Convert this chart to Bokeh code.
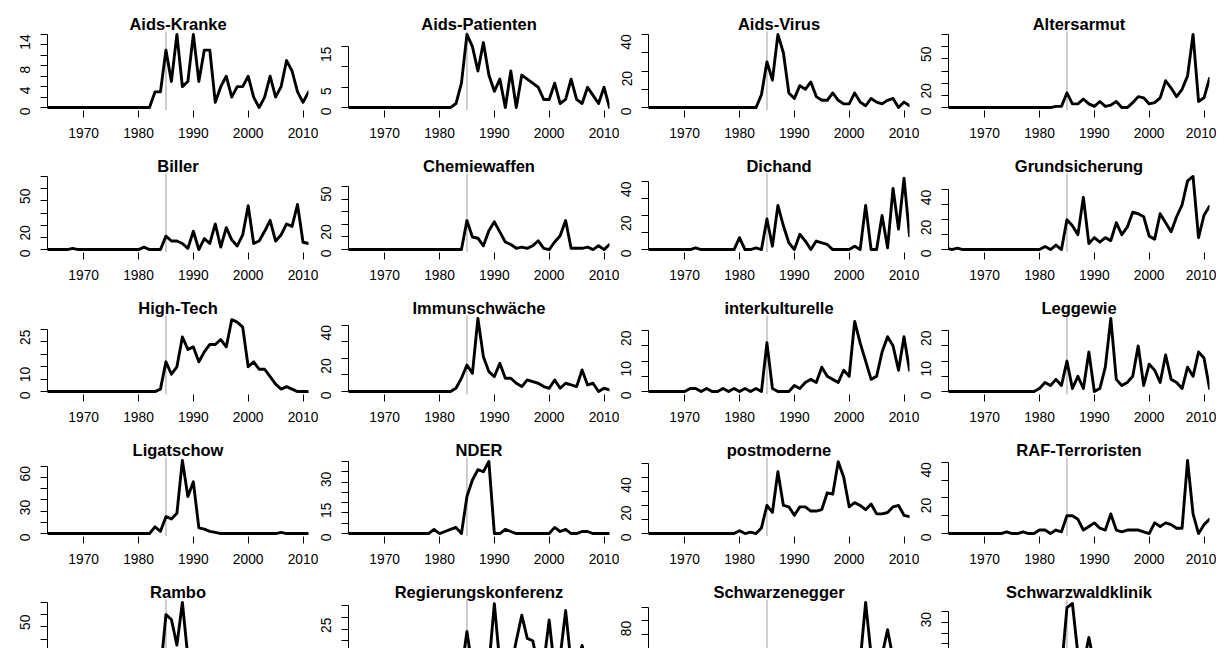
import numpy as np
from bokeh.plotting import figure
from bokeh.layouts import row, column
from bokeh.models import Range1d, FixedTicker, Label
from bokeh.embed import file_html
from bokeh.resources import INLINE

years = list(range(1963, 2012))

z = lambda n: [0] * n

aids_kranke = z(20) + [3, 3, 11, 5, 14, 4, 5, 14, 5, 11, 11, 1, 4, 6, 2, 4, 4, 6, 2, 0, 2, 6, 2, 4, 9, 7, 3, 1, 3]
aids_patienten = z(20) + [1, 6, 18, 15, 9, 16, 8, 4, 7, 0, 9, 0, 8, 7, 6, 5, 2, 2, 6, 1, 2, 7, 2, 1, 5, 3, 1, 5, 0]
aids_virus = z(21) + [7, 25, 15, 40, 30, 8, 5, 12, 10, 14, 6, 4, 4, 8, 4, 2, 2, 8, 3, 1, 5, 3, 2, 4, 5, 0, 3, 1]
altersarmut = z(20) + [1, 1, 12, 3, 3, 7, 3, 1, 5, 1, 2, 5, 0, 0, 4, 9, 8, 3, 4, 8, 22, 16, 9, 15, 26, 60, 5, 8, 24]
biller = z(5) + [1] + z(12) + [2, 0, 0, 0, 11, 7, 7, 5, 1, 15, 0, 9, 5, 21, 2, 18, 8, 3, 12, 36, 5, 7, 15, 24, 7, 12, 21, 19, 37, 6, 5]
chemiewaffen = z(22) + [23, 10, 9, 3, 15, 22, 14, 6, 4, 1, 2, 1, 3, 7, 1, 0, 6, 11, 23, 1, 1, 1, 2, 0, 3, 0, 4]
dichand = z(9) + [1] + z(7) + [7, 0, 0, 1, 0, 18, 2, 26, 14, 4, 0, 9, 5, 0, 5, 4, 3, 0, 0, 0, 0, 2, 0, 26, 0, 0, 20, 1, 36, 12, 42, 8]
grundsicherung = [1, 0, 1] + z(15) + [2, 0, 3, 0, 20, 16, 10, 35, 4, 8, 5, 8, 6, 18, 10, 15, 25, 24, 22, 9, 7, 24, 18, 12, 22, 30, 46, 49, 8, 23, 29]
high_tech = z(21) + [1, 12, 7, 10, 22, 17, 18, 12, 16, 19, 19, 21, 18, 29, 28, 26, 10, 12, 9, 9, 6, 3, 1, 2, 1, 0, 0, 0]
immunschwaeche = z(20) + [2, 8, 16, 11, 44, 21, 12, 9, 17, 8, 8, 5, 3, 7, 6, 5, 3, 2, 7, 2, 5, 4, 3, 13, 4, 5, 0, 2, 1]
interkulturelle = z(7) + [0, 1, 1, 0, 1, 0, 0, 1, 0, 1, 0, 1, 0, 1, 0, 16, 1, 0, 0, 0, 2, 1, 3, 4, 3, 8, 5, 4, 3, 7,
                          5, 23, 16, 10, 4, 5, 13, 18, 15, 7, 18, 7]
leggewie = z(17) + [1, 3, 2, 4, 2, 10, 1, 5, 1, 13, 0, 1, 8, 24, 4, 2, 3, 5, 15, 2, 9, 7, 3, 12, 4, 3, 1, 8, 5, 13, 11, 1]
ligatschow = z(20) + [6, 2, 15, 13, 18, 65, 33, 46, 5, 4, 2, 1] + z(11) + [1] + z(5)
nder = z(16) + [2, 0, 1, 2, 3, 0, 18, 26, 31, 30, 35, 0, 0, 2, 1, 0, 0, 0, 0, 0, 0, 0, 3, 1, 2, 0, 0, 1, 1, 0, 0, 0, 0]
postmoderne = z(17) + [2, 0, 1, 0, 4, 20, 15, 44, 20, 19, 13, 19, 19, 16, 16, 17, 29, 28, 51, 40, 19, 22, 20, 17, 21, 14, 14, 15, 19, 20, 13, 12]
raf_terroristen = z(11) + [1, 0, 0, 1, 0, 0, 2, 2, 0, 2, 1, 10, 10, 8, 2, 4, 6, 3, 2, 11, 2, 1, 2, 2, 2, 1, 0, 6, 4, 6,
                           5, 3, 3, 41, 11, 0, 5, 8]
rambo = z(21) + [3, 50, 46, 25, 60, 15, 8, 5, 3, 4, 2, 3, 2, 2, 3, 1, 2, 4, 2, 1, 3, 2, 1, 2, 5, 2, 3, 1]
regierungskonferenz = z(21) + [2, 19, 3, 1, 2, 4, 31, 5, 4, 3, 15, 26, 16, 15, 4, 5, 24, 2, 8, 28, 5, 3, 13, 3, 5, 2, 3, 2]
schwarzenegger = z(21) + [1, 3, 2, 4, 5, 3, 6, 4, 3, 5, 4, 6, 8, 5, 4, 9, 12, 15, 20, 107, 30, 25, 30, 67, 25, 20, 15, 10]
schwarzwaldklinik = z(21) + [3, 32, 34, 10, 5, 18, 5, 3, 2, 2, 1, 1, 2, 1, 1, 0, 1, 0, 1, 0, 1, 0, 1, 0, 0, 1, 0, 0]

titles = ["Aids-Kranke", "Aids-Patienten", "Aids-Virus", "Altersarmut",
          "Biller", "Chemiewaffen", "Dichand", "Grundsicherung",
          "High-Tech", "Immunschwäche", "interkulturelle", "Leggewie",
          "Ligatschow", "NDER", "postmoderne", "RAF-Terroristen",
          "Rambo", "Regierungskonferenz", "Schwarzenegger", "Schwarzwaldklinik"]
series = [aids_kranke, aids_patienten, aids_virus, altersarmut,
          biller, chemiewaffen, dichand, grundsicherung,
          high_tech, immunschwaeche, interkulturelle, leggewie,
          ligatschow, nder, postmoderne, raf_terroristen,
          rambo, regierungskonferenz, schwarzenegger, schwarzwaldklinik]
# upper y limit of each panel
ylim_top = [14, 18, 40, 60,
            60, 58, 43, 49,
            29.5, 44, 24, 24,
            65, 35.5, 52, 41,
            60, 31.5, 107, 34.5]
# y tick step and last tick
ytick_step = [2, 5, 10, 10,
              10, 10, 10, 10,
              5, 10, 5, 5,
              10, 5, 10, 10,
              10, 5, 20, 5]
ytick_last = [14, 15, 40, 60,
              60, 50, 40, 40,
              25, 40, 20, 20,
              60, 35, 50, 40,
              60, 30, 100, 30]
# tick labels that are printed (the bottom row is cut off, so only its upper labels show)
ylabels_shown = [[0, 4, 8, 14], [0, 5, 15], [0, 20, 40], [0, 20, 50],
                 [0, 20, 50], [0, 20, 50], [0, 20, 40], [0, 20, 40],
                 [0, 10, 25], [0, 20, 40], [0, 10, 20], [0, 10, 20],
                 [0, 30, 60], [0, 15, 30], [0, 20, 40], [0, 20, 40],
                 [50], [25], [80], [30]]
xticks = [1970, 1980, 1990, 2000, 2010]
marker_year = 1985

FONT = "Liberation Sans"
X0, X1 = 1963.4, 2011.0
FRAME_W, FRAME_H = 261, 79          # plotting region in pixels
BOTTOM = 40
row_top_space = [31, 23, 23, 23, 23]  # space for the title above the plotting region
LAST_VIS = 49                         # visible part of the last (cut) row
col_left = [47, 39, 39, 39]
col_right = [10, 10, 10, 7]
col_shift = [0, -9, -10, -10]


def make_panel(i, r, c):
    last = (r == 4)
    M = ylim_top[i]
    lo, hi = -0.04 * M, 1.04 * M
    scale = FRAME_H / (hi - lo)
    top_px = row_top_space[r]
    hi_ext = hi + top_px / scale
    if last:
        lo_vis = hi - LAST_VIS / scale
        h = top_px + LAST_VIS
    else:
        lo_vis = lo
        h = top_px + FRAME_H + BOTTOM
    w = col_left[c] + FRAME_W + col_right[c]
    p = figure(width=w, height=h, x_range=Range1d(X0, X1), y_range=Range1d(lo_vis, hi_ext),
               output_backend="svg", toolbar_location=None,
               x_axis_location=None if last else "below",
               min_border_left=col_left[c], min_border_right=col_right[c],
               min_border_top=0, min_border_bottom=0 if last else BOTTOM,
               background_fill_color=None, border_fill_color=None,
               outline_line_color=None,
               styles={"margin-left": f"{col_shift[c]}px"})
    p.xgrid.visible = False
    p.ygrid.visible = False

    # grey reference line across the plotting region
    p.segment(x0=[marker_year], y0=[lo], x1=[marker_year], y1=[hi],
              line_color="#BEBEBE", line_width=1.5)
    p.line(years, series[i], line_color="black", line_width=2.9,
           line_join="round", line_cap="round")

    if not last:
        xa = p.xaxis[0]
        xa.ticker = FixedTicker(ticks=xticks)
        xa.bounds = (xticks[0], xticks[-1])
        xa.axis_line_color = None
        xa.major_tick_in = 0
        xa.major_tick_out = 7
        xa.major_tick_line_color = "black"
        xa.minor_tick_line_color = None
        xa.major_label_standoff = 10
        xa.major_label_text_font = FONT
        xa.major_label_text_font_size = "13.8px"
        xa.major_label_text_color = "black"

    yt = list(range(0, ytick_last[i] + 1, ytick_step[i]))
    ya = p.yaxis[0]
    ya.ticker = FixedTicker(ticks=yt)
    ya.bounds = (0, yt[-1])
    ya.axis_line_color = "black"
    ya.axis_line_width = 1
    ya.major_tick_in = 0
    ya.major_tick_out = 7
    ya.minor_tick_line_color = None
    ya.major_label_orientation = np.pi / 2
    ya.major_label_standoff = 15
    ya.major_label_text_font = FONT
    ya.major_label_text_font_size = "13.8px"
    ya.major_label_text_color = "black"
    overrides = {}
    for t in yt:
        if t not in ylabels_shown[i]:
            overrides[t] = ""
            overrides[str(t)] = ""
    ya.major_label_overrides = overrides

    p.add_layout(Label(x=(X0 + X1) / 2, y=hi, y_offset=8, text=titles[i],
                       text_align="center", text_baseline="alphabetic",
                       text_font=FONT, text_font_style="bold",
                       text_font_size="16.5px", text_color="black"))
    return p


rows = []
for r in range(5):
    figs = [make_panel(r * 4 + c, r, c) for c in range(4)]
    rows.append(row(*figs, spacing=0))
layout = column(*rows, spacing=0)

open("out.html", "w").write(file_html(layout, INLINE))
